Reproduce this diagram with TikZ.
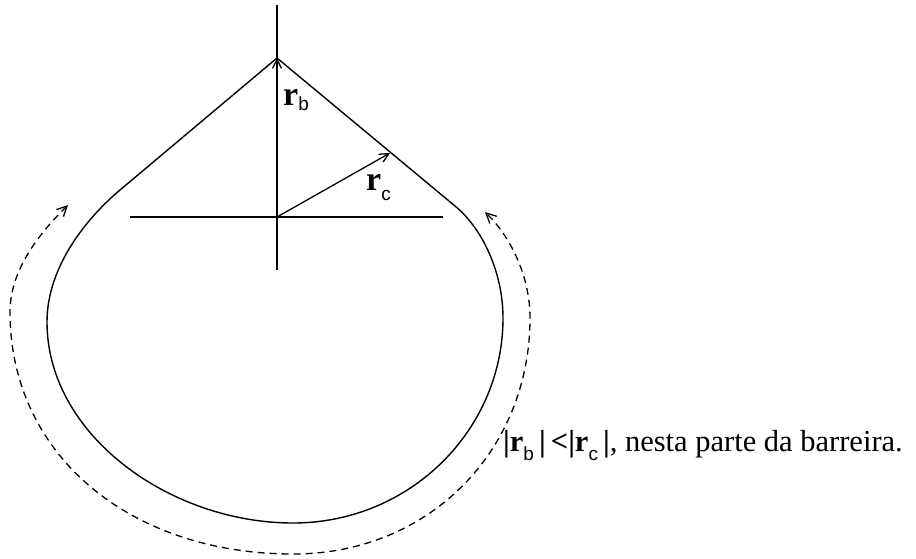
\documentclass[tikz,border=0pt]{standalone}
\usepackage{fontspec}
\setmainfont{Liberation Serif}
\newfontfamily\subsans{Liberation Sans}
\usetikzlibrary{arrows.meta}
\newcommand{\subl}[2]{\raisebox{-#1}{\fontsize{19}{19}\subsans #2}}
\begin{document}
\begin{tikzpicture}[x=1pt,y=-1pt,
  axis/.style={line width=1.2pt},
  barrier/.style={line width=1.4pt},
  vec/.style={line width=1.3pt,-{Straight Barb[length=9pt,width=9pt]}},
  route/.style={line width=1.3pt,dash pattern=on 7pt off 5pt,
     {Straight Barb[length=10pt,width=10pt]}-{Straight Barb[length=10pt,width=10pt]}},
  lbl/.style={anchor=base west,inner sep=0pt,font=\fontsize{34}{40}\selectfont},
  txt/.style={anchor=base west,inner sep=0pt,font=\fontsize{30.5}{36}\selectfont}]
\useasboundingbox (0,0) rectangle (916,558);
% axes
\coordinate (O) at (277,217);
\coordinate (VT) at (277,5);
\coordinate (VB) at (277,270);
\coordinate (HL) at (130,217);
\coordinate (HR) at (443,217);
\draw[axis] (VT) -- (VB);
\draw[axis] (HL) -- (HR);
% barrier
\coordinate (A) at (277,58);
\coordinate (L) at (120,190);
\coordinate (R) at (455,206);
\coordinate (P1) at (47,322);
\coordinate (P2) at (293,523);
\coordinate (P3) at (503,318);
\draw[barrier,line join=round] (P3) .. controls (503,272) and (482,228) .. (R) -- (A) -- (L)
  .. controls (89,216) and (47,265) .. (P1)
  .. controls (47,435) and (170,523) .. (P2)
  .. controls (410,523) and (503,430) .. (P3);
% vectors
\coordinate (C) at (390,153);
\draw[vec] (O) -- (A);
\draw[vec] (O) -- (C);
% dashed path
\coordinate (S) at (68,205);
\coordinate (Q1) at (10,312);
\coordinate (Q2) at (293,554);
\coordinate (Q3) at (530,318);
\coordinate (E) at (485,212);
\draw[route] (S) .. controls (47,226) and (10,265) .. (Q1)
  .. controls (10,455) and (130,554) .. (Q2)
  .. controls (430,554) and (530,450) .. (Q3)
  .. controls (530,272) and (507,233) .. (E);
% labels
\node[lbl] (rb) at (283,105) {\textbf{r}\subl{5pt}{b}};
\node[lbl] (rc) at (366,190) {\textbf{r}\subl{10pt}{c}};
\node[txt] (note) at (503,451) {\textbf{|r}\subl{9pt}{b}\,\textbf{|\,<|r}\subl{9pt}{c}\,\textbf{|}, nesta parte da barreira.};
\end{tikzpicture}
\end{document}
